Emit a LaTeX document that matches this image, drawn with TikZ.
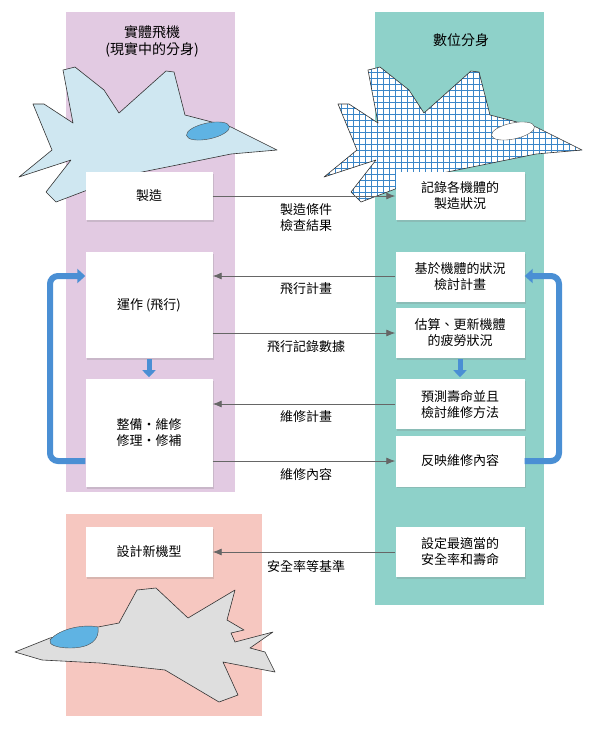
\documentclass[tikz,border=0pt]{standalone}
\usepackage{fontspec}
\setmainfont{Noto Sans CJK TC}
\usetikzlibrary{arrows.meta,shadows}
\definecolor{bandp}{HTML}{E2CAE2}
\definecolor{bandt}{HTML}{8ED1C9}
\definecolor{bandr}{HTML}{F6C7C0}
\definecolor{loopb}{HTML}{4A8FD4}
\definecolor{planeb}{HTML}{CFE7F1}
\definecolor{canopy}{HTML}{5FB3E3}
\definecolor{gridb}{HTML}{3A86C8}
\definecolor{linec}{HTML}{666666}
\begin{document}
\begin{tikzpicture}[x=1pt,y=-1pt,
  box/.style={draw=none,fill=white,minimum width=128pt,align=center,font=\fontsize{13}{16}\selectfont,inner sep=0pt,drop shadow={shadow xshift=1.5pt,shadow yshift=-1.5pt,opacity=0.25}},
  flow/.style={draw=linec,line width=0.8pt,-{Latex[length=9pt,width=7pt]}},
  lab/.style={font=\fontsize{13}{16}\selectfont,align=center},
  bigarrow/.style={draw=loopb,line width=6pt,rounded corners=8pt,-{Triangle[length=8pt,width=14pt]}},
  plane/.style={draw=black!80,line width=0.6pt,line join=round}]
\useasboundingbox (0,0) rectangle (600,732);
\fill[bandp] (66,12) rectangle (235,492);
\fill[bandt] (375,12) rectangle (544,605);
\fill[bandr] (66,514) rectangle (262,716);
% titles
\node[lab,font=\fontsize{14}{17}\selectfont] (t1) at (152,41) {實體飛機\\(現實中的分身)};
\node[lab,font=\fontsize{14}{17}\selectfont] (t2) at (461,40) {數位分身};
% planes
\def\fplane{(277,150) -- (231,127) -- (185,115) -- (174,72) -- (166,71) -- (119,113) -- (104,90) -- (75,67) -- (63,70) -- (73,123) -- (44,104) -- (33,104) -- (52,150) -- (19,177) -- (71,160) -- (46,192) -- (56,202) -- (127,175) -- (177,165) -- (231,154) -- cycle}
\fill[planeb] \fplane; \draw[plane] \fplane;
\fill[canopy,draw=black!70,rotate around={12:(208,131)}] (208,131) ellipse (22 and 8);
\begin{scope}[xshift=305pt]
\fill[white] \fplane;
\begin{scope}
\clip \fplane;
\foreach \i in {0,6,...,270} {\draw[gridb,line width=0.6pt] (\i,60) -- (\i,210);}
\foreach \j in {60,66,...,210} {\draw[gridb,line width=0.6pt] (0,\j) -- (290,\j);}
\end{scope}
\draw[plane] \fplane;
\fill[white,draw=black!70,rotate around={12:(208,131)}] (208,131) ellipse (22 and 8);
\end{scope}
\def\splane{(15,652) -- (50,638) -- (98,627) -- (119,623) -- (137,590) -- (156,588) -- (188,618) -- (235,590) -- (227,620) -- (244,630) -- (231,633) -- (235,642) -- (273,632) -- (250,648) -- (265,652) -- (275,672) -- (223,662) -- (238,695) -- (219,702) -- (165,670) -- (100,663) -- (42,660) -- cycle}
\fill[black!13] \splane; \draw[plane] \splane;
\fill[canopy,draw=black!70] (50,640) .. controls (60,628) and (85,624) .. (98,627) .. controls (100,640) and (90,648) .. (70,648) .. controls (58,648) and (48,645) .. (50,640) -- cycle;
% boxes
\node[box,minimum width=127pt,minimum height=48pt] (m1) at (149,196) {製造};
\node[box,minimum width=127pt,minimum height=106pt] (op) at (149,305) {運作 (飛行)};
\node[box,minimum width=127pt,minimum height=108pt] (mt) at (149,433) {整備・維修\\修理・修補};
\node[box,minimum width=127pt,minimum height=50pt] (ds) at (149,552) {設計新機型};
\node[box,minimum width=129pt,minimum height=48pt] (r1) at (460,196) {記錄各機體的\\製造狀況};
\node[box,minimum width=129pt,minimum height=50pt] (r2) at (460,277) {基於機體的狀況\\檢討計畫};
\node[box,minimum width=129pt,minimum height=50pt] (r3) at (460,333) {估算、更新機體\\的疲勞狀況};
\node[box,minimum width=129pt,minimum height=50pt] (r4) at (460,404) {預測壽命並且\\檢討維修方法};
\node[box,minimum width=129pt,minimum height=51pt] (r5) at (460,461) {反映維修內容};
\node[box,minimum width=129pt,minimum height=50pt] (r6) at (460,552) {設定最適當的\\安全率和壽命};
% flows
\draw[flow] (m1.east) -- (r1.west);
\node[lab] (l1) at (306,218) {製造條件\\檢查結果};
\draw[flow] (r2.west |- 0,276) -- (op.east |- 0,276);
\node[lab] (l2) at (306,289) {飛行計畫};
\draw[flow] (op.east |- 0,333) -- (r3.west |- 0,333);
\node[lab] (l3) at (306,347) {飛行記錄數據};
\draw[flow] (r4.west |- 0,404) -- (mt.east |- 0,404);
\node[lab] (l4) at (306,417) {維修計畫};
\draw[flow] (mt.east |- 0,461) -- (r5.west |- 0,461);
\node[lab] (l5) at (306,475) {維修內容};
\draw[flow] (r6.west) -- (ds.east);
\node[lab] (l6) at (306,567) {安全率等基準};
% blue loops
\draw[bigarrow] (mt.west |- 0,461) -- (50,461) -- (50,276) -- (op.west |- 0,276);
\draw[bigarrow] (r5.east |- 0,461) -- (559,461) -- (559,276) -- (r2.east |- 0,276);
\draw[draw=loopb,line width=5pt,-{Triangle[length=7pt,width=13pt]}] (op.south) ++(0,1) -- ++(0,18);
\draw[draw=loopb,line width=5pt,-{Triangle[length=7pt,width=13pt]}] (r3.south) ++(0,1) -- ++(0,18);
\end{tikzpicture}
\end{document}
